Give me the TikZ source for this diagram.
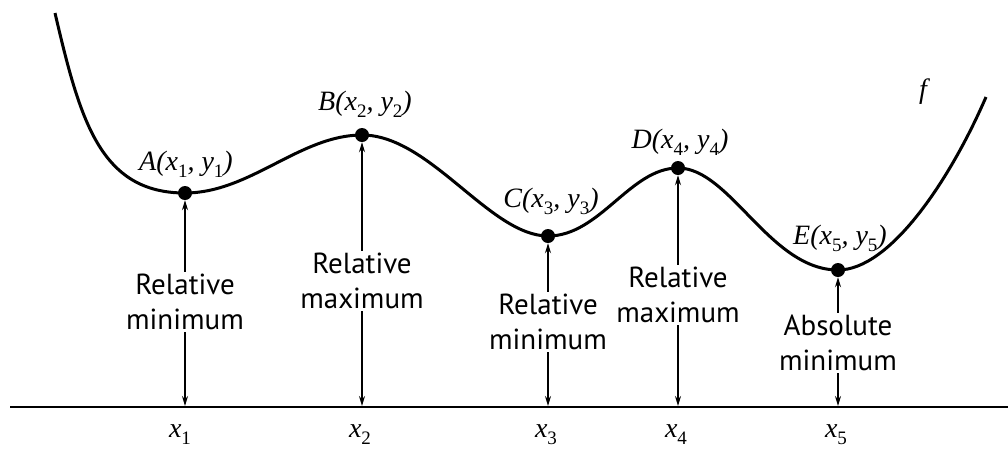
\documentclass[tikz,border=0pt]{standalone}
\usepackage{fontspec}
\setsansfont{PT Sans}
\newfontfamily\tms{Liberation Serif}
\newcommand{\lo}[1]{\raisebox{-0.55ex}{\fontsize{19}{19}\selectfont\upshape #1}}
\usetikzlibrary{arrows.meta}
\tikzset{
 curve/.style={line width=3pt},
 dot/.style={circle,fill=black,inner sep=0pt,minimum size=14pt},
 lbl/.style={font=\sffamily\fontsize{29}{35}\selectfont,align=center,inner sep=2pt},
 ptl/.style={font=\tms\itshape\fontsize{28}{30}\selectfont,inner sep=0pt},
 xl/.style={font=\tms\itshape\fontsize{28}{30}\selectfont,inner sep=0pt},
 arr/.style={line width=1.4pt,-{Stealth[length=10pt,width=6pt]}},
 axisline/.style={line width=2pt}
}
\begin{document}
\begin{tikzpicture}[x=1pt,y=-1pt]
\useasboundingbox (0,0) rectangle (1008,451);
% curve points
\coordinate (S) at (55,13);
\coordinate (pA) at (185,193);
\coordinate (pB) at (362,135);
\coordinate (pC) at (548,236);
\coordinate (pD) at (678,168);
\coordinate (pE) at (838,270);
\coordinate (F) at (986,97);
\draw[curve] (S) .. controls (80,120) and (100,193) .. (pA)
  .. controls (250,193) and (300,135) .. (pB)
  .. controls (430,135) and (490,236) .. (pC)
  .. controls (600,236) and (630,168) .. (pD)
  .. controls (730,168) and (770,270) .. (pE)
  .. controls (890,270) and (950,180) .. (F);
% axis
\coordinate (ax0) at (10,407);
\coordinate (ax1) at (1008,407);
\draw[axisline] (ax0) -- (ax1);
% dots
\node[dot] (A) at (pA) {};
\node[dot] (B) at (pB) {};
\node[dot] (C) at (pC) {};
\node[dot] (D) at (pD) {};
\node[dot] (E) at (pE) {};
% point labels
\node[ptl] (tA) at (186,164) {A(x\lo{1}, y\lo{1})};
\node[ptl] (tB) at (365,104) {B(x\lo{2}, y\lo{2})};
\node[ptl] (tC) at (551,201) {C(x\lo{3}, y\lo{3})};
\node[ptl] (tD) at (680,142) {D(x\lo{4}, y\lo{4})};
\node[ptl] (tE) at (840,238) {E(x\lo{5}, y\lo{5})};
\node[ptl] (f) at (923,92) {f};
% descriptive labels
\node[lbl] (LA) at (185,302) {Relative\\minimum};
\node[lbl] (LB) at (362,281) {Relative\\maximum};
\node[lbl] (LC) at (548,322) {Relative\\minimum};
\node[lbl] (LD) at (678,295) {Relative\\maximum};
\node[lbl] (LE) at (838,343) {Absolute\\minimum};
% axis feet
\coordinate (a1) at (185,406);
\coordinate (a2) at (362,406);
\coordinate (a3) at (548,406);
\coordinate (a4) at (678,406);
\coordinate (a5) at (838,406);
% arrows
\draw[arr] (LA.north) -- (A.south);
\draw[arr] (LB.north) -- (B.south);
\draw[arr] (LC.north) -- (C.south);
\draw[arr] (LD.north) -- (D.south);
\draw[arr] (LE.north) -- (E.south);
\draw[arr] (LA.south) -- (a1);
\draw[arr] (LB.south) -- (a2);
\draw[arr] (LC.south) -- (a3);
\draw[arr] (LD.south) -- (a4);
\draw[arr] (LE.south) -- (a5);
% x labels
\node[xl] (X1) at (180,435) {x\lo{1}};
\node[xl] (X2) at (360,435) {x\lo{2}};
\node[xl] (X3) at (546,435) {x\lo{3}};
\node[xl] (X4) at (676,435) {x\lo{4}};
\node[xl] (X5) at (836,435) {x\lo{5}};
\end{tikzpicture}
\end{document}
